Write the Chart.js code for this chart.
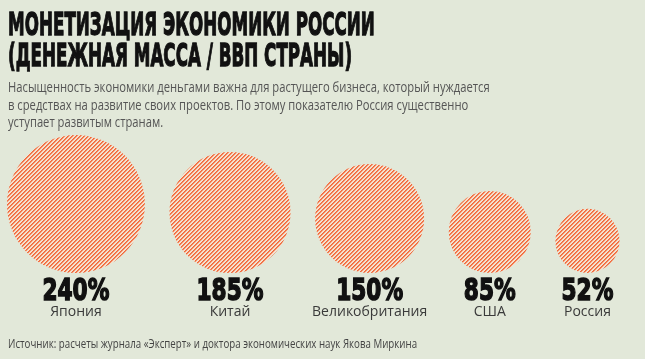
<!DOCTYPE html>
<html lang="ru">
<head>
<meta charset="utf-8">
<script src="https://cdn.jsdelivr.net/npm/chart.js@4"></script>
<style>
  body { margin: 0; background: #e2e8d9; }
  #wrap { position: relative; width: 645px; height: 359px; overflow: hidden; background: #e2e8d9; }
  #c { position: absolute; left: 0; top: 0; }
  .txt { position: absolute; left: 8px; white-space: nowrap; transform-origin: 0 0; display: inline-block; }
  #title { top: 9px; font: bold 32px/31px "DejaVu Sans"; color: #111; -webkit-text-stroke: 1.3px #111; }
  #sub { top: 78px; font: 14px/17.7px "Open Sans"; color: #555; }
  #src { top: 336px; font: 12.5px/15px "Open Sans"; color: #444; }
</style>
</head>
<body>
<div id="wrap">
  <canvas id="c" width="645" height="359"></canvas>
  <div id="title" class="txt">МОНЕТИЗАЦИЯ ЭКОНОМИКИ РОССИИ<br>(ДЕНЕЖНАЯ МАССА / ВВП СТРАНЫ)</div>
  <div id="sub" class="txt">Насыщенность экономики деньгами важна для растущего бизнеса, который нуждается<br>в средствах на развитие своих проектов. По этому показателю Россия существенно<br>уступает развитым странам.</div>
  <div id="src" class="txt">Источник: расчеты журнала «Эксперт» и доктора экономических наук Якова Миркина</div>
</div>
<script>
// данные
var countries = ['Япония', 'Китай', 'Великобритания', 'США', 'Россия'];
var values = [240, 185, 150, 85, 52];
var valueLabels = ['240%', '185%', '150%', '85%', '52%'];

// подгоняем ширину текста
function fit(id, w) {
    var el = document.getElementById(id);
    el.style.transform = 'scaleX(' + (w / el.offsetWidth) + ')';
}
fit('title', 367);
fit('sub', 482);
fit('src', 409);

// штриховка (диагональ «/», шаг 4 px)
function hatch() {
    var p = document.createElement('canvas');
    p.width = 4; p.height = 4;
    var c = p.getContext('2d');
    for (var y = 0; y < 4; y++) {
        c.fillStyle = '#f2683a';
        c.fillRect((7 - y) % 4, y, 1, 1);
        c.fillStyle = '#f4875e';
        c.fillRect((8 - y) % 4, y, 1, 1);
        c.fillStyle = '#f6dcc8';
        c.fillRect((5 - y) % 4, y, 1, 1);
        c.fillStyle = '#f0e6d6';
        c.fillRect((6 - y) % 4, y, 1, 1);
    }
    return document.getElementById('c').getContext('2d').createPattern(p, 'repeat');
}

// раскладка кругов: площадь пропорциональна значению
var K = 4.45, GAP = 24.6, START = 7;
var points = [];
var x = START, prevR = 0;
values.forEach(function(v, i) {
    var r = K * Math.sqrt(v);
    x += (i === 0 ? r : prevR + GAP + r);
    points.push({ x: x, y: r, r: r });
    prevR = r;
});

var labelsPlugin = {
    id: 'labels',
    afterDatasetsDraw: function(chart) {
        var ctx = chart.ctx;
        var base = chart.chartArea.bottom;
        var meta = chart.getDatasetMeta(0);
        ctx.save();
        ctx.font = 'bold 31px "DejaVu Sans"';
        var sx = 67 / ctx.measureText('240%').width;
        meta.data.forEach(function(el, i) {
            ctx.save();
            ctx.translate(el.x, base + 26.5);
            ctx.scale(sx, 1);
            ctx.textAlign = 'center';
            ctx.textBaseline = 'alphabetic';
            ctx.fillStyle = '#111';
            ctx.strokeStyle = '#111';
            ctx.lineWidth = 1.6;
            ctx.fillText(valueLabels[i], 0, 0);
            ctx.strokeText(valueLabels[i], 0, 0);
            ctx.restore();
        });
        ctx.font = '14px "Open Sans"';
        ctx.fillStyle = '#3a3a3a';
        ctx.textAlign = 'center';
        meta.data.forEach(function(el, i) {
            ctx.fillText(countries[i], el.x, base + 43);
        });
        ctx.restore();
    }
};

new Chart(document.getElementById('c'), {
    type: 'bubble',
    data: {
        datasets: [{
            data: points,
            backgroundColor: hatch(),
            borderWidth: 0,
            hoverRadius: 0,
            clip: false
        }]
    },
    options: {
        responsive: false,
        animation: false,
        events: [],
        layout: { autoPadding: false, padding: { top: 130, bottom: 86, left: 0, right: 0 } },
        scales: {
            x: { type: 'linear', display: false, min: 0, max: 645 },
            y: { type: 'linear', display: false, min: 0, max: 143 }
        },
        plugins: { legend: { display: false }, tooltip: { enabled: false } }
    },
    plugins: [labelsPlugin]
});
</script>
</body>
</html>
